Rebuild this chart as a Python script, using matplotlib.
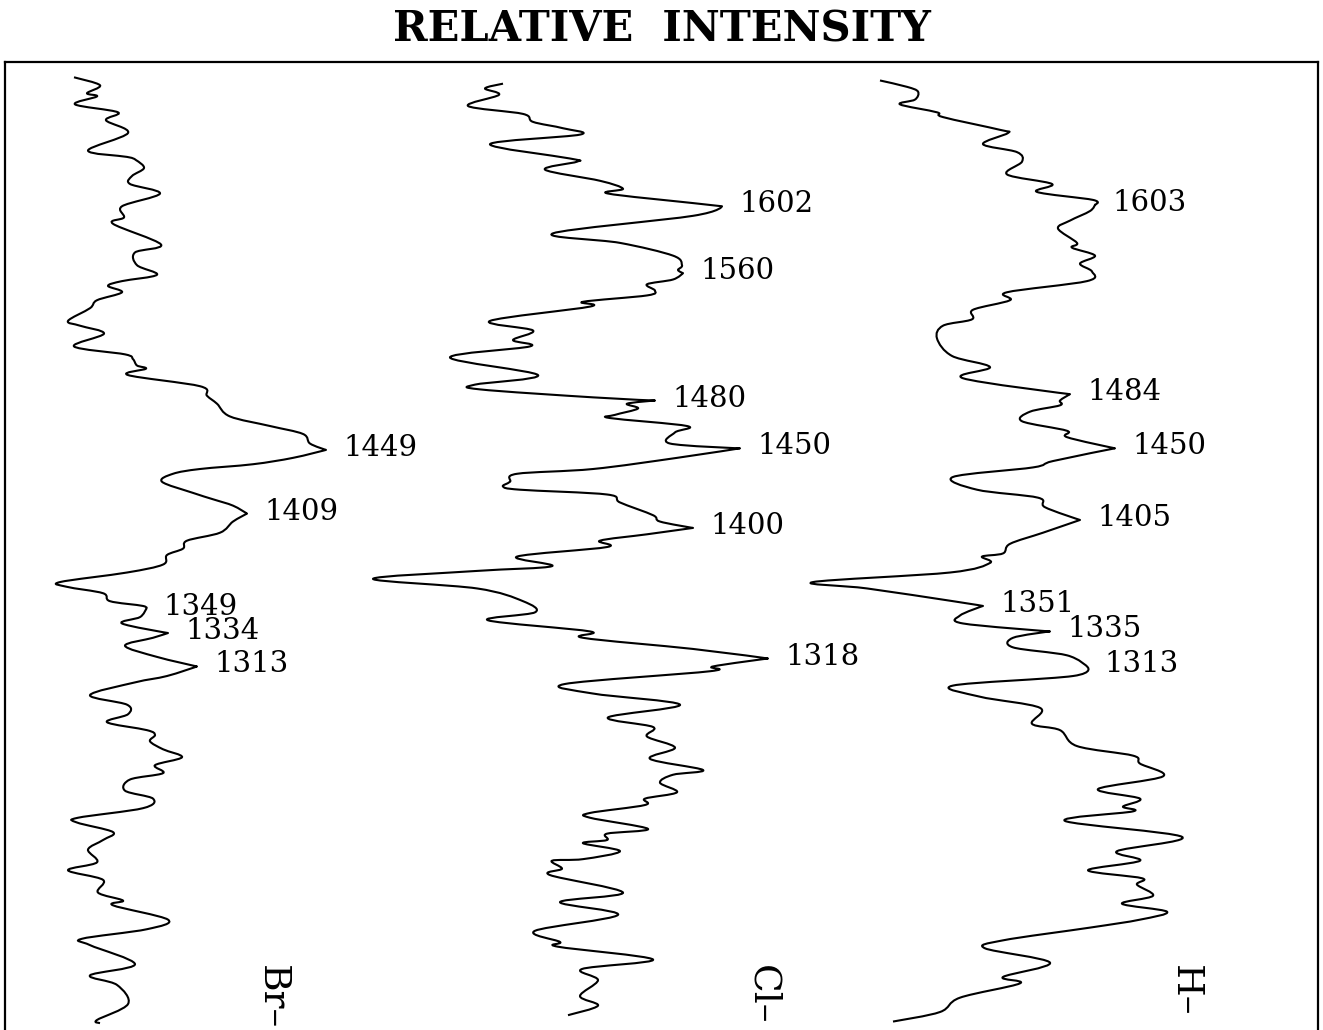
import matplotlib.pyplot as plt
import numpy as np
from matplotlib.patches import PathPatch
from matplotlib.path import Path

# Raman shift (cm-1) and relative intensity of the three spectra
br_shift = [1683, 1678, 1673, 1671, 1666, 1661, 1656, 1648, 1637, 1633, 1631, 1626,
            1621, 1616, 1610, 1602, 1595, 1591, 1578, 1573, 1565, 1559, 1555, 1552,
            1548, 1543, 1538, 1530, 1527, 1522, 1514, 1509, 1506, 1502, 1500, 1496,
            1489, 1483, 1478, 1470, 1464, 1459, 1453, 1449, 1444, 1440, 1437, 1434,
            1429, 1422, 1418, 1414, 1409, 1404, 1397, 1392, 1387, 1383, 1377, 1372,
            1366, 1363, 1359, 1354, 1351, 1349, 1344, 1340, 1334, 1331, 1326, 1319,
            1313, 1307, 1303, 1295, 1289, 1283, 1278, 1273, 1270, 1266, 1261, 1256,
            1251, 1246, 1242, 1235, 1230, 1224, 1218, 1215, 1209, 1204, 1198, 1190,
            1185, 1179, 1171, 1166, 1163, 1154, 1148, 1142, 1138, 1126, 1119, 1113,
            1101, 1091, 1089]
br_intensity = [19, 45, 32, 42, 20, 63, 51, 73, 33, 72, 81, 89,
                77, 75, 105, 67, 69, 58, 106, 80, 82, 102, 67, 53,
                67, 42, 35, 13, 25, 49, 19, 70, 78, 82, 91, 73,
                145, 152, 162, 175, 215, 248, 255, 271, 238, 198, 145, 118,
                107, 138, 158, 178, 192, 178, 165, 132, 128, 112, 108, 72,
                5, 12, 48, 55, 88, 91, 85, 67, 113, 98, 70, 102,
                142, 112, 80, 35, 72, 73, 52, 92, 100, 95, 108, 127,
                100, 108, 75, 70, 98, 88, 23, 22, 58, 48, 33, 42,
                13, 48, 43, 68, 58, 113, 92, 27, 35, 80, 35, 62,
                73, 42, 45]
br_peaks = [1449, 1409, 1349, 1334, 1313]

cl_shift = [1679, 1676, 1672, 1665, 1660, 1655, 1651, 1647, 1641, 1632, 1630, 1625,
            1618, 1613, 1610, 1604, 1602, 1596, 1585, 1579, 1571, 1565, 1562, 1560,
            1556, 1553, 1549, 1546, 1542, 1539, 1530, 1524, 1518, 1514, 1507, 1496,
            1490, 1487, 1482, 1480, 1478, 1475, 1471, 1469, 1464, 1460, 1453, 1450,
            1444, 1437, 1434, 1429, 1426, 1424, 1421, 1416, 1408, 1404, 1400, 1396,
            1392, 1388, 1382, 1376, 1373, 1368, 1362, 1354, 1347, 1342, 1335, 1331,
            1324, 1318, 1313, 1310, 1302, 1296, 1289, 1281, 1275, 1269, 1262, 1255,
            1248, 1245, 1240, 1234, 1230, 1226, 1221, 1218, 1211, 1208, 1204, 1202,
            1197, 1192, 1191, 1186, 1182, 1171, 1165, 1157, 1147, 1140, 1137, 1129,
            1123, 1116, 1106, 1100, 1094]
cl_intensity = [138, 120, 134, 103, 158, 168, 198, 215, 125, 205, 212, 180,
                235, 258, 243, 328, 357, 328, 188, 255, 308, 317, 313, 318,
                308, 282, 290, 282, 218, 225, 125, 168, 148, 165, 85, 173,
                110, 115, 228, 290, 262, 273, 250, 245, 322, 310, 305, 375,
                312, 228, 152, 145, 138, 155, 242, 255, 288, 295, 328, 282,
                235, 242, 152, 187, 112, 8, 112, 158, 170, 123, 225, 218,
                328, 403, 348, 345, 200, 228, 315, 243, 288, 282, 310, 285,
                338, 308, 295, 312, 280, 280, 225, 225, 283, 242, 242, 218,
                255, 218, 187, 197, 185, 258, 195, 253, 170, 195, 193, 288,
                217, 233, 215, 233, 203]
cl_peaks = [1602, 1560, 1480, 1450, 1400, 1318]

h_shift = [1681, 1677, 1674, 1669, 1666, 1661, 1658, 1650, 1648, 1641, 1636, 1630,
           1622, 1616, 1611, 1606, 1603, 1599, 1593, 1588, 1579, 1576, 1571, 1566,
           1561, 1555, 1548, 1543, 1537, 1531, 1527, 1519, 1508, 1501, 1494, 1484,
           1480, 1477, 1473, 1467, 1461, 1457, 1450, 1442, 1438, 1432, 1424, 1419,
           1413, 1405, 1397, 1390, 1384, 1382, 1378, 1372, 1366, 1362, 1354, 1351,
           1345, 1340, 1335, 1331, 1325, 1320, 1313, 1307, 1301, 1294, 1287, 1277,
           1273, 1263, 1257, 1252, 1244, 1236, 1230, 1225, 1222, 1216, 1206, 1197,
           1191, 1185, 1180, 1176, 1169, 1164, 1159, 1154, 1149, 1141, 1136, 1127,
           1118, 1114, 1105, 1096, 1090]
h_intensity = [75, 102, 113, 110, 95, 132, 138, 195, 203, 178, 212, 217,
               202, 247, 232, 288, 290, 285, 265, 253, 272, 267, 290, 275,
               287, 282, 202, 205, 168, 167, 138, 132, 147, 185, 158, 265,
               255, 255, 225, 217, 262, 262, 310, 248, 228, 148, 172, 233,
               240, 275, 238, 205, 198, 177, 185, 145, 8, 62, 148, 178,
               155, 158, 245, 208, 208, 262, 282, 268, 148, 175, 235, 227,
               255, 272, 328, 335, 358, 293, 335, 318, 328, 260, 377, 312,
               335, 283, 337, 332, 348, 317, 362, 335, 285, 198, 180, 245,
               198, 215, 155, 135, 88]
h_peaks = [1603, 1484, 1450, 1405, 1351, 1335, 1313]

names = ["Br\u2013", "Cl\u2013", "H\u2013"]


def pen_trace(xs, ys, sharp, k=1 / 6):
    # Bezier curve through the recorded points, like a chart recorder pen;
    # labelled peak tips keep a sharp corner.
    pts = np.column_stack([xs, ys]).astype(float)
    n = len(pts)
    tang = np.zeros_like(pts)
    for i in range(n):
        if i in sharp:
            continue
        tang[i] = (pts[min(i + 1, n - 1)] - pts[max(i - 1, 0)]) * k
    verts = [pts[0]]
    codes = [Path.MOVETO]
    for i in range(n - 1):
        verts += [pts[i] + tang[i], pts[i + 1] - tang[i + 1], pts[i + 1]]
        codes += [Path.CURVE4] * 3
    return Path(verts, codes)


plt.rcParams["font.family"] = "DejaVu Serif"

fig = plt.figure(figsize=(13.23, 10.30), dpi=100)
ax = fig.add_axes([5 / 1323, 0.0, 1313 / 1323, 968 / 1030])

spectra = [
    (br_shift, br_intensity, br_peaks, 50),
    (cl_shift, cl_intensity, cl_peaks, 360),
    (h_shift, h_intensity, h_peaks, 800),
]
name_x = [0.2033, 0.5765, 0.8987]

for (shift, inten, peaks, offset), name, nx in zip(spectra, names, name_x):
    xs = [offset + v for v in inten]
    tips = {shift.index(p) for p in peaks}
    ax.add_patch(PathPatch(pen_trace(xs, shift, tips), fill=False,
                           edgecolor="black", lw=1.5, joinstyle="round"))
    for p in peaks:
        i = shift.index(p)
        ax.annotate(str(p), xy=(xs[i], p), xytext=(17, 2),
                    textcoords="offset pixels", ha="left", va="center",
                    fontsize=21)
    ax.text(nx, 0.067, name, transform=ax.transAxes, rotation=-90,
            ha="center", va="top", fontsize=27)

ax.set_xlim(0, 1313)
ax.set_ylim(1084.7, 1692.6)
ax.set_xticks([])
ax.set_yticks([])
ax.spines["bottom"].set_visible(False)
for side in ["top", "left", "right"]:
    ax.spines[side].set_linewidth(1.6)

fig.text(0.5, 1 - 30 / 1030, "RELATIVE  INTENSITY", ha="center", va="center",
         fontsize=30, fontweight="bold")

fig.savefig("out.png", dpi=100)
